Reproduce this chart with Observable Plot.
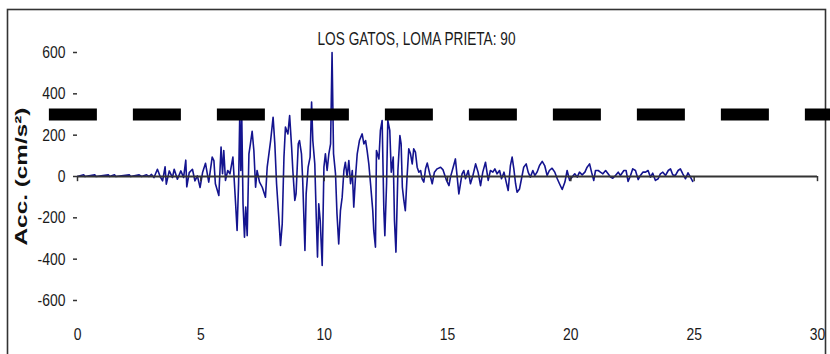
<!DOCTYPE html>
<html>
<head>
<meta charset="utf-8">
<script src="https://cdn.jsdelivr.net/npm/d3@7"></script>
<script src="https://cdn.jsdelivr.net/npm/@observablehq/plot@0.6"></script>
<style>
  html, body { margin: 0; padding: 0; background: white; }
  #chart svg { display: block; }
</style>
</head>
<body>
<div id="chart"></div>
<script>
const title = "LOS GATOS, LOMA PRIETA: 90";
const yLabel = "Acc. (cm/s²)";
const xTicks = [0, 5, 10, 15, 20, 25, 30];
const yTicks = [-600, -400, -200, 0, 200, 400, 600];
const threshold = [300];

// time (s)
const time = [
  0, 0.25, 0.3, 0.7, 0.75, 1.25, 1.3, 1.5, 1.55, 2.1, 2.15, 2.5, 2.6, 2.8, 2.9, 3.0, 3.1,
  3.24, 3.35, 3.45, 3.55, 3.6, 3.72, 3.85, 3.92, 4.05, 4.19, 4.3, 4.39, 4.43, 4.53, 4.66, 4.76, 4.86, 4.97, 5.07, 5.19,
  5.32, 5.46, 5.53, 5.59, 5.73, 5.82, 5.88, 5.93, 6.0, 6.09, 6.18, 6.30, 6.41, 6.47, 6.53, 6.58, 6.62, 6.66, 6.71, 6.77,
  6.82, 6.88, 6.95, 7.01, 7.08, 7.15, 7.22, 7.28, 7.38, 7.49, 7.62, 7.69, 7.83, 7.93, 8.0, 8.07, 8.16, 8.23, 8.30, 8.37,
  8.43, 8.53, 8.60,
  8.68, 8.73, 8.81, 8.86, 8.95, 9.0, 9.08, 9.13, 9.22, 9.27, 9.35, 9.43, 9.49, 9.54, 9.62, 9.68, 9.73, 9.78, 9.84, 9.92,
  9.99, 10.05, 10.12, 10.19, 10.26, 10.32, 10.38, 10.46, 10.52, 10.59, 10.66, 10.73, 10.80, 10.86, 10.93, 11.0, 11.07,
  11.14, 11.2, 11.27, 11.34, 11.43, 11.54, 11.61, 11.68, 11.74, 11.81, 11.88, 11.97,
  12.01, 12.08, 12.12, 12.22, 12.28, 12.35, 12.42, 12.46, 12.53, 12.58, 12.66, 12.72, 12.80, 12.85, 12.91, 12.99, 13.07,
  13.12, 13.17, 13.23, 13.29, 13.36, 13.43, 13.50, 13.57, 13.63, 13.70, 13.77, 13.84, 13.91, 13.97, 14.04, 14.11, 14.18,
  14.28, 14.38, 14.47, 14.58, 14.72, 14.82, 14.96, 15.06, 15.12, 15.23, 15.32,
  15.46, 15.59, 15.66, 15.73, 15.84, 15.93, 16.03, 16.14, 16.24, 16.34, 16.43, 16.54, 16.65, 16.74, 16.84, 16.92, 17.01,
  17.11, 17.19, 17.29, 17.38, 17.46, 17.55, 17.62, 17.69, 17.76, 17.82, 17.92, 18.0, 18.09, 18.19, 18.27, 18.36, 18.46,
  18.54, 18.63, 18.73, 18.84, 18.94, 19.04, 19.13, 19.24, 19.35, 19.45, 19.54, 19.65, 19.76, 19.85, 19.95, 20.05, 20.16,
  20.26, 20.35, 20.46, 20.57, 20.66, 20.76, 20.84, 20.93, 21.0, 21.11, 21.20, 21.30, 21.41, 21.51, 21.61, 21.70, 21.81,
  21.92, 22.01, 22.15, 22.24, 22.32, 22.42, 22.51, 22.62, 22.73, 22.82, 22.92, 23.03, 23.13, 23.23, 23.32, 23.43, 23.54,
  23.63, 23.73, 23.84, 23.95, 24.04, 24.13, 24.24, 24.35, 24.44, 24.54, 24.65, 24.75, 24.85, 24.94
];

// acceleration (cm/s²)
const acc = [
  0, 8, 0, 8, 0, 8, 0, 8, 0, 8, 0, 8, 0, 8, 0, 10, -5,
  35, 0, -21, 47, -37, 27, -5, 35, -13, 27, -5, 79, -50, 19, 35, -21, 3, -53, 19, 64,
  -27, 94, 77, -35, -92, 142, 13, 126, -19, 29, 13, 94, -132, -261, -35, 310, 29, 287, -132, -294,
  -148, -286, 110, 158, 219, 126, -52, 29, -27, -52, -100, 45, 174, 287, 158, -35, -197, -334, -229, 94,
  239, 206, 295,
  142, 29, -116, -84, 158, 174, 110, -19, -358, -84, 45, 94, 360, 174, 61, -197, -390, -132, -213, -431,
  45, 110, 29, 110, 158, 600, 110, 13, -181, -326, -165, -100, 29, 69, -3, 77, -35,
  29, -148, -3, 110, 174, 206, 158, 174, 126, 61, -35, -165,
  -261, -342, 126, 85, 223, 271, -165, -286, -35, 271, 223, 21, 94, -213, -366, 29, 198,
  158, -52, -116, -165, -3, 134, 110, 61, 134, 118, 45, 21, 29, -11, -27, 37, 65,
  13, -35, 21, 37, 45, 32, -19, -44, -3, 45, 85,
  -84, 13, 29, -11, 29, -35, 5, 61, 21, -44, 21, 69, -19, 29, 21, 37, 13,
  29, -11, 21, -27, -68, 53, 94, 37, -35, -76, -60, -11, 45, 61, 21, -3, 29,
  5, 21, 53, 73, 53, 5, 29, 40, 21, -11, -35, -63, -27, 29, -19, -3, 13,
  -3, 21, 8, 21, 45, 61, 21, -19, 29, 29, 21, 13, 29, 13, -3, -8, 5,
  21, 5, 29, 29, -24, 5, 37, 29, -15, 5, 21, 21, 29, -3, 16, -19, -11,
  13, 21, 5, 29, 37, 8, 5, 29, 37, 13, -11, 18, -3, -24
];

const records = time.map((t, i) => ({t, a: acc[i]}));
const sans = "'Liberation Sans', Arial, sans-serif";

const chart = Plot.plot({
  width: 830,
  height: 354,
  marginLeft: 77,
  marginRight: 13,
  marginTop: 52,
  marginBottom: 54,
  x: {domain: [0, 30]},
  y: {domain: [-600, 600]},
  style: {fontFamily: sans, fontSize: "17px", color: "#1a1a1a", background: "white"},
  marks: [
    Plot.frame({insetLeft: -70, insetTop: -43, insetRight: -8, insetBottom: -60, stroke: "#333", strokeWidth: 1.6}),
    Plot.axisY({ticks: yTicks, tickSize: 4, tickPadding: 8, line: true, label: null, tickFormat: d => String(d), stroke: "#333", strokeWidth: 1.5}),
    Plot.axisX({ticks: xTicks, tickSize: 0, tickPadding: 27, label: null, tickFormat: d => String(d)}),
    Plot.line(records, {x: "t", y: "a", stroke: "#14148f", strokeWidth: 1.6}),
    Plot.ruleY([0], {x1: 0, x2: 30, stroke: "#333", strokeWidth: 2}),
    Plot.ruleX(xTicks, {y1: 0, y2: -25, stroke: "#333", strokeWidth: 1.5}),
    Plot.ruleY(threshold, {x1: -1.14, x2: 31, stroke: "black", strokeWidth: 12, strokeDasharray: "48,36"}),
    Plot.text([title], {frameAnchor: "top", textAnchor: "middle", dx: -31, dy: -20, fontSize: 18, fill: "#1a1a1a"}),
    Plot.text([yLabel], {frameAnchor: "left", textAnchor: "middle", dx: -56, rotate: -90, fontWeight: "bold", fontSize: 17, fill: "#111"})
  ]
});

document.getElementById("chart").appendChild(chart);

// The reference's lettering is condensed horizontally (Arial-Narrow-like);
// scale each text about its own anchor point.
function stretch(el, sx, sy) {
  const x = +el.getAttribute("x") || 0;
  const y = +el.getAttribute("y") || 0;
  const t = el.getAttribute("transform") || "";
  el.setAttribute("transform", `${t} translate(${x},${y}) scale(${sx},${sy}) translate(${-x},${-y})`);
}
d3.select(chart).selectAll("text").each(function () {
  const s = this.textContent;
  const len = this.getComputedTextLength();
  if (s === yLabel) stretch(this, 138 / len, 1);
  else if (s === title) stretch(this, 198 / len, 1);
  else stretch(this, 0.82, 1);
});
</script>
</body>
</html>
